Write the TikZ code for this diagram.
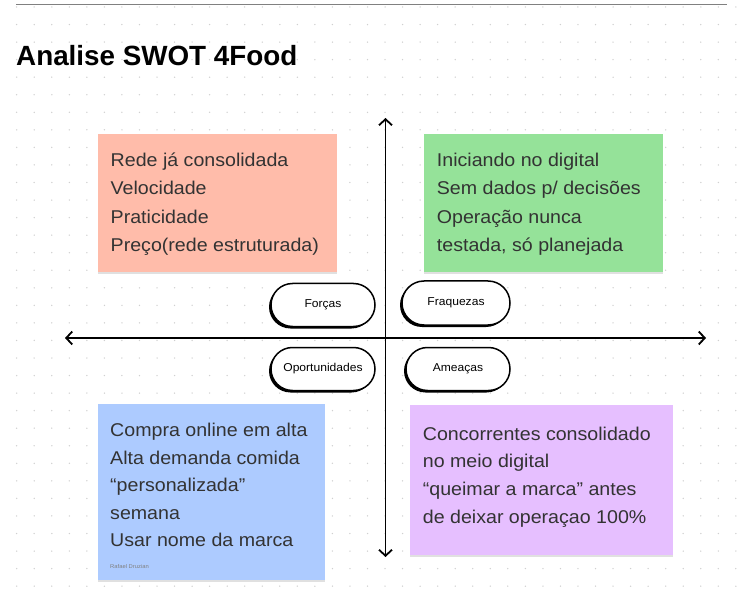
\documentclass[tikz,border=0pt]{standalone}
\usepackage{fontspec}
\setmainfont[FakeStretch=1.06]{Liberation Sans}
\newfontfamily\titlefont{Liberation Sans}
\usetikzlibrary{arrows.meta,shapes.misc,shadows}
\definecolor{salmon}{HTML}{FFBCAA}
\definecolor{mint}{HTML}{95E299}
\definecolor{sky}{HTML}{ADCBFF}
\definecolor{lilac}{HTML}{E6BFFF}
\definecolor{ink}{HTML}{333333}
\definecolor{dotc}{HTML}{D0D0D0}
\tikzset{
  note/.style={rectangle, inner sep=0, anchor=north west, draw=none,
    drop shadow={shadow xshift=0pt, shadow yshift=-1.5pt, fill=black, opacity=0.12}},
  notetext/.style={inner sep=0, anchor=base west, text=ink, font=\fontsize{18.5}{28.3}\selectfont},
  pill/.style={rounded rectangle, draw=black, line width=1.5pt, fill=white, inner sep=0,
    text height=8pt, text depth=2.5pt,
    font=\fontsize{11.4}{13}\selectfont, text=black,
    drop shadow={shadow xshift=-2pt, shadow yshift=-2pt, fill=black, opacity=1}},
  axis/.style={line width=1.8pt, black, {Straight Barb[length=6pt,width=13pt]}-{Straight Barb[length=6pt,width=13pt]}}
}
\begin{document}
\begin{tikzpicture}[x=1pt,y=-1pt]
\useasboundingbox[fill=white] (0,0) rectangle (750,596);
% dot grid
\foreach \i in {0,...,42} {
  \foreach \j in {0,...,33} {
    \fill[dotc] (16.7+17.54*\i, 7+17.55*\j) circle (0.75pt);
  }
}
% top rule
\coordinate (ruleL) at (16,4.5);
\coordinate (ruleR) at (727,4.5);
\draw[line width=1.2pt, gray] (ruleL) -- (ruleR);
% title
\node[inner sep=0, anchor=base west, font=\titlefont\bfseries\fontsize{27.8}{30}\selectfont] (title) at (16,66) {Analise SWOT 4Food};
% notes
\node[note, fill=salmon, minimum width=239.5pt, minimum height=138pt] (S) at (97.5,134) {};
\node[note, fill=mint, minimum width=239pt, minimum height=138pt] (W) at (424,134) {};
\node[note, fill=sky, minimum width=227.5pt, minimum height=176pt] (O) at (97.5,404) {};
\node[note, fill=lilac, minimum width=263pt, minimum height=150pt] (T) at (410,405) {};
% note texts
\node[notetext] (Stxt) at (110.5,166.7) {\begin{tabular}[t]{@{}l@{}}Rede já consolidada\\Velocidade\\Praticidade\\Preço(rede estruturada)\end{tabular}};
\node[notetext] (Wtxt) at (436.7,166.7) {\begin{tabular}[t]{@{}l@{}}Iniciando no digital\\Sem dados p/ decisões\\Operação nunca\\testada, só planejada\end{tabular}};
\node[notetext, font=\fontsize{18.5}{27.5}\selectfont] (Otxt) at (110,436.7) {\begin{tabular}[t]{@{}l@{}}Compra online em alta\\Alta demanda comida\\“personalizada”\\semana\\Usar nome da marca\end{tabular}};
\node[notetext, font=\fontsize{18.5}{27.8}\selectfont] (Ttxt) at (422.7,440) {\begin{tabular}[t]{@{}l@{}}Concorrentes consolidado\\no meio digital\\“queimar a marca” antes\\de deixar operaçao 100\%\end{tabular}};
\node[inner sep=0, anchor=base west, text=gray, font=\fontsize{5.5}{6}\selectfont] (author) at (110,568) {Rafael Druzian};
% axes
\coordinate (axL) at (65,338);
\coordinate (axR) at (706,338);
\coordinate (axT) at (385.5,118);
\coordinate (axB) at (385.5,557);
\draw[axis] (axL) -- (axR);
\draw[axis] (axT) -- (axB);
% pills
\node[pill, minimum width=104pt, minimum height=43pt] (forcas) at (323,305) {Forças};
\node[pill, minimum width=108pt, minimum height=44pt] (fraq) at (456,303) {Fraquezas};
\node[pill, minimum width=104pt, minimum height=43pt] (oport) at (323,369) {Oportunidades};
\node[pill, minimum width=104pt, minimum height=43pt] (ameacas) at (458,369) {Ameaças};
\end{tikzpicture}
\end{document}
